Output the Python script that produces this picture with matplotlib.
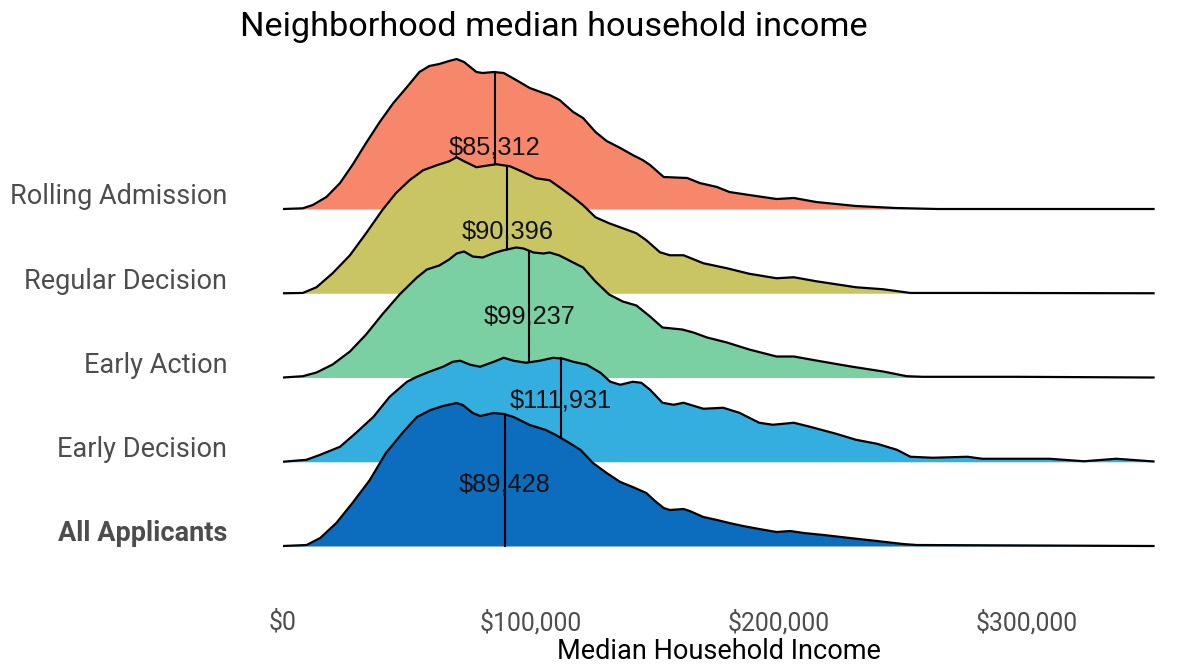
import matplotlib

matplotlib.use("Agg")
import matplotlib.pyplot as plt
import numpy as np
from matplotlib.ticker import FuncFormatter

# --- data (income in $1000s, ridge height in px of a row of 84.25 px)
groups = ["All Applicants", "Early Decision", "Early Action",
          "Regular Decision", "Rolling Admission"]
medians = [89428, 111931, 99237, 90396, 85312]
colors = ["#0C6CBD", "#33AEDE", "#7ACFA3", "#C8C562", "#F7876B"]

all_x = [0, 9.5, 15, 21.5, 28, 35, 41.5, 48.5, 54, 59.5, 64.5, 70, 72.5, 76.5,
         79.5, 85, 89, 93, 99.5, 106, 110, 115.5, 120, 125, 130.5, 136, 141,
         146.5, 150, 153.5, 156, 161.5, 164, 169.5, 175, 180, 185.5, 192, 199,
         204.5, 210, 218, 228.5, 239.5, 250, 255.5, 351]
all_h = [0, 1, 8, 23, 43, 66, 93, 114, 129, 136, 140, 143, 141, 133,
         130, 133, 132, 129, 121, 116, 111, 103, 96, 83, 73, 64, 59,
         53, 45, 38, 36, 37, 35, 29, 26, 23, 20, 17, 14,
         15, 13, 11, 8, 5, 2, 1, 0]

ed_x = [0, 9.5, 15, 23, 29.5, 36.5, 43, 50, 54, 59, 64.5, 68.5, 71.5, 75.5,
        79.5, 85, 89, 93, 98, 103.5, 109, 113, 117, 122.5, 128, 132, 136, 141,
        144.5, 148, 153, 157.5, 161.5, 169.5, 177.5, 184, 192, 197.5, 206,
        212.5, 223, 231, 239.5, 247.5, 253, 262, 276, 282, 296, 309, 323, 336, 351]
ed_h = [0, 2, 7, 15, 29, 45, 65, 80, 85, 90, 95, 100, 101, 97,
        95, 100, 104, 101, 99, 101, 104, 103, 100, 97, 89, 80, 77, 80,
        79, 72, 59, 57, 59, 53, 54, 49, 39, 37, 39,
        35, 28, 22, 18, 12, 5, 4, 5, 3, 3, 3, 0.5, 3, 0.3]

ea_x = [0, 8, 13.5, 20, 27, 33.5, 40, 47, 54, 58, 63, 67, 70, 73, 76.5, 80.5,
        84.5, 88.5, 94, 97, 101, 105, 107.5, 111.5, 117, 121, 126, 131.5, 137,
        142.5, 148, 153, 161, 165.5, 171, 179, 188, 199, 206, 215, 229, 242,
        251.5, 258, 296, 351]
ea_h = [0, 1.3, 5, 13, 26, 43, 63, 83, 100, 108, 112, 118, 124, 126, 121, 120,
        124, 127, 130, 129, 125, 124, 125, 122, 115, 110, 96, 83, 76,
        72, 61, 50, 48, 45, 40, 35, 28, 21, 21, 17, 11, 6,
        1.3, 0.7, 0.7, 0]

rd_x = [0, 8, 13.5, 20, 27, 33.5, 40, 45.5, 51, 56.5, 62, 67, 70, 73, 78,
        80.5, 86, 91.5, 97, 102, 107.5, 111.5, 117, 121, 126, 131.5, 137,
        142.5, 146.5, 152, 156, 161.5, 169.5, 179, 188, 199, 206, 215, 223,
        231, 242, 253, 282, 351]
rd_h = [0, 0.3, 6, 20, 38, 60, 83, 100, 113, 123, 128, 132, 136, 132, 126,
        127, 129, 127, 121, 115, 113, 106, 96, 88, 76, 70, 65,
        60, 53, 41, 38, 38, 30, 25, 19.5, 15, 16, 12, 9,
        6, 4, 0.3, 0.3, 0]

ra_x = [0, 8, 12, 17.5, 23, 28, 33.5, 39, 44.5, 50, 55, 59, 63, 67, 70, 73,
        78, 80.5, 85, 89, 94, 99.5, 105, 107.5, 111.5, 117, 121, 126, 130.5,
        136, 141, 145, 148, 153.5, 163, 168, 175, 180, 188, 199, 206, 215,
        231, 247, 264, 351]
ra_h = [0, 0.7, 4, 12, 26, 44, 66, 87, 106, 122, 137, 143, 145, 148, 150, 147,
        137, 136, 137, 136, 129, 121, 116, 114, 109, 97, 91, 77, 68,
        61, 54, 49, 44, 32, 31, 26, 22, 17, 14, 10, 11, 7,
        3, 1, 0, 0]

ridge_x = [all_x, ed_x, ea_x, rd_x, ra_x]
ridge_h = [all_h, ed_h, ea_h, rd_h, ra_h]

ROW_PX = 84.25  # height units -> row spacing

plt.rcParams["font.family"] = ["Roboto", "DejaVu Sans"]

fig = plt.figure(figsize=(12.01, 6.71), dpi=100)
ax = fig.add_axes([283 / 1201, 1 - 560 / 671, (1155 - 283) / 1201, 520 / 671])

# top ridge first, lower ridges overlap it
for i in range(len(groups) - 1, -1, -1):
    x = np.asarray(ridge_x[i]) * 1000
    top = i + np.asarray(ridge_h[i]) / ROW_PX
    z = 10 + (len(groups) - i) * 2
    ax.fill_between(x, i, top, color=colors[i], lw=0, zorder=z)
    ax.plot(x, top, color="black", lw=1.6, zorder=z + 1, solid_joinstyle="round")
    m = medians[i]
    ax.plot([m, m], [i, np.interp(m, x, top)], color="black", lw=1.5, zorder=z + 1)

for i, m in enumerate(medians):
    ax.text(m, i + 0.73, f"${m:,}", ha="center", va="center", fontsize=18.3,
            family=["Liberation Sans", "DejaVu Sans"], color="#111111", zorder=100)

ax.set_xlim(0, 351600)
ax.set_ylim(-0.166, 6.006)
ax.set_xticks([0, 100000, 200000, 300000])
ax.xaxis.set_major_formatter(FuncFormatter(lambda v, _: f"${v:,.0f}"))
ax.set_yticks(np.arange(len(groups)) + 0.18)
ax.set_yticklabels(groups)
ax.get_yticklabels()[0].set_fontweight("bold")
ax.tick_params(axis="x", length=0, pad=36, labelsize=17.8, labelcolor="#4D4D4D")
ax.tick_params(axis="y", length=0, pad=40, labelsize=19.5, labelcolor="#4D4D4D")
ax.set_xlabel("Median Household Income", fontsize=19.5, color="black", labelpad=2)
for s in ax.spines.values():
    s.set_visible(False)

fig.text(240 / 1201, 1 - 27 / 671, "Neighborhood median household income",
         ha="left", va="center", fontsize=24.7, color="black")

fig.savefig("out.png", dpi=100, facecolor="white")
